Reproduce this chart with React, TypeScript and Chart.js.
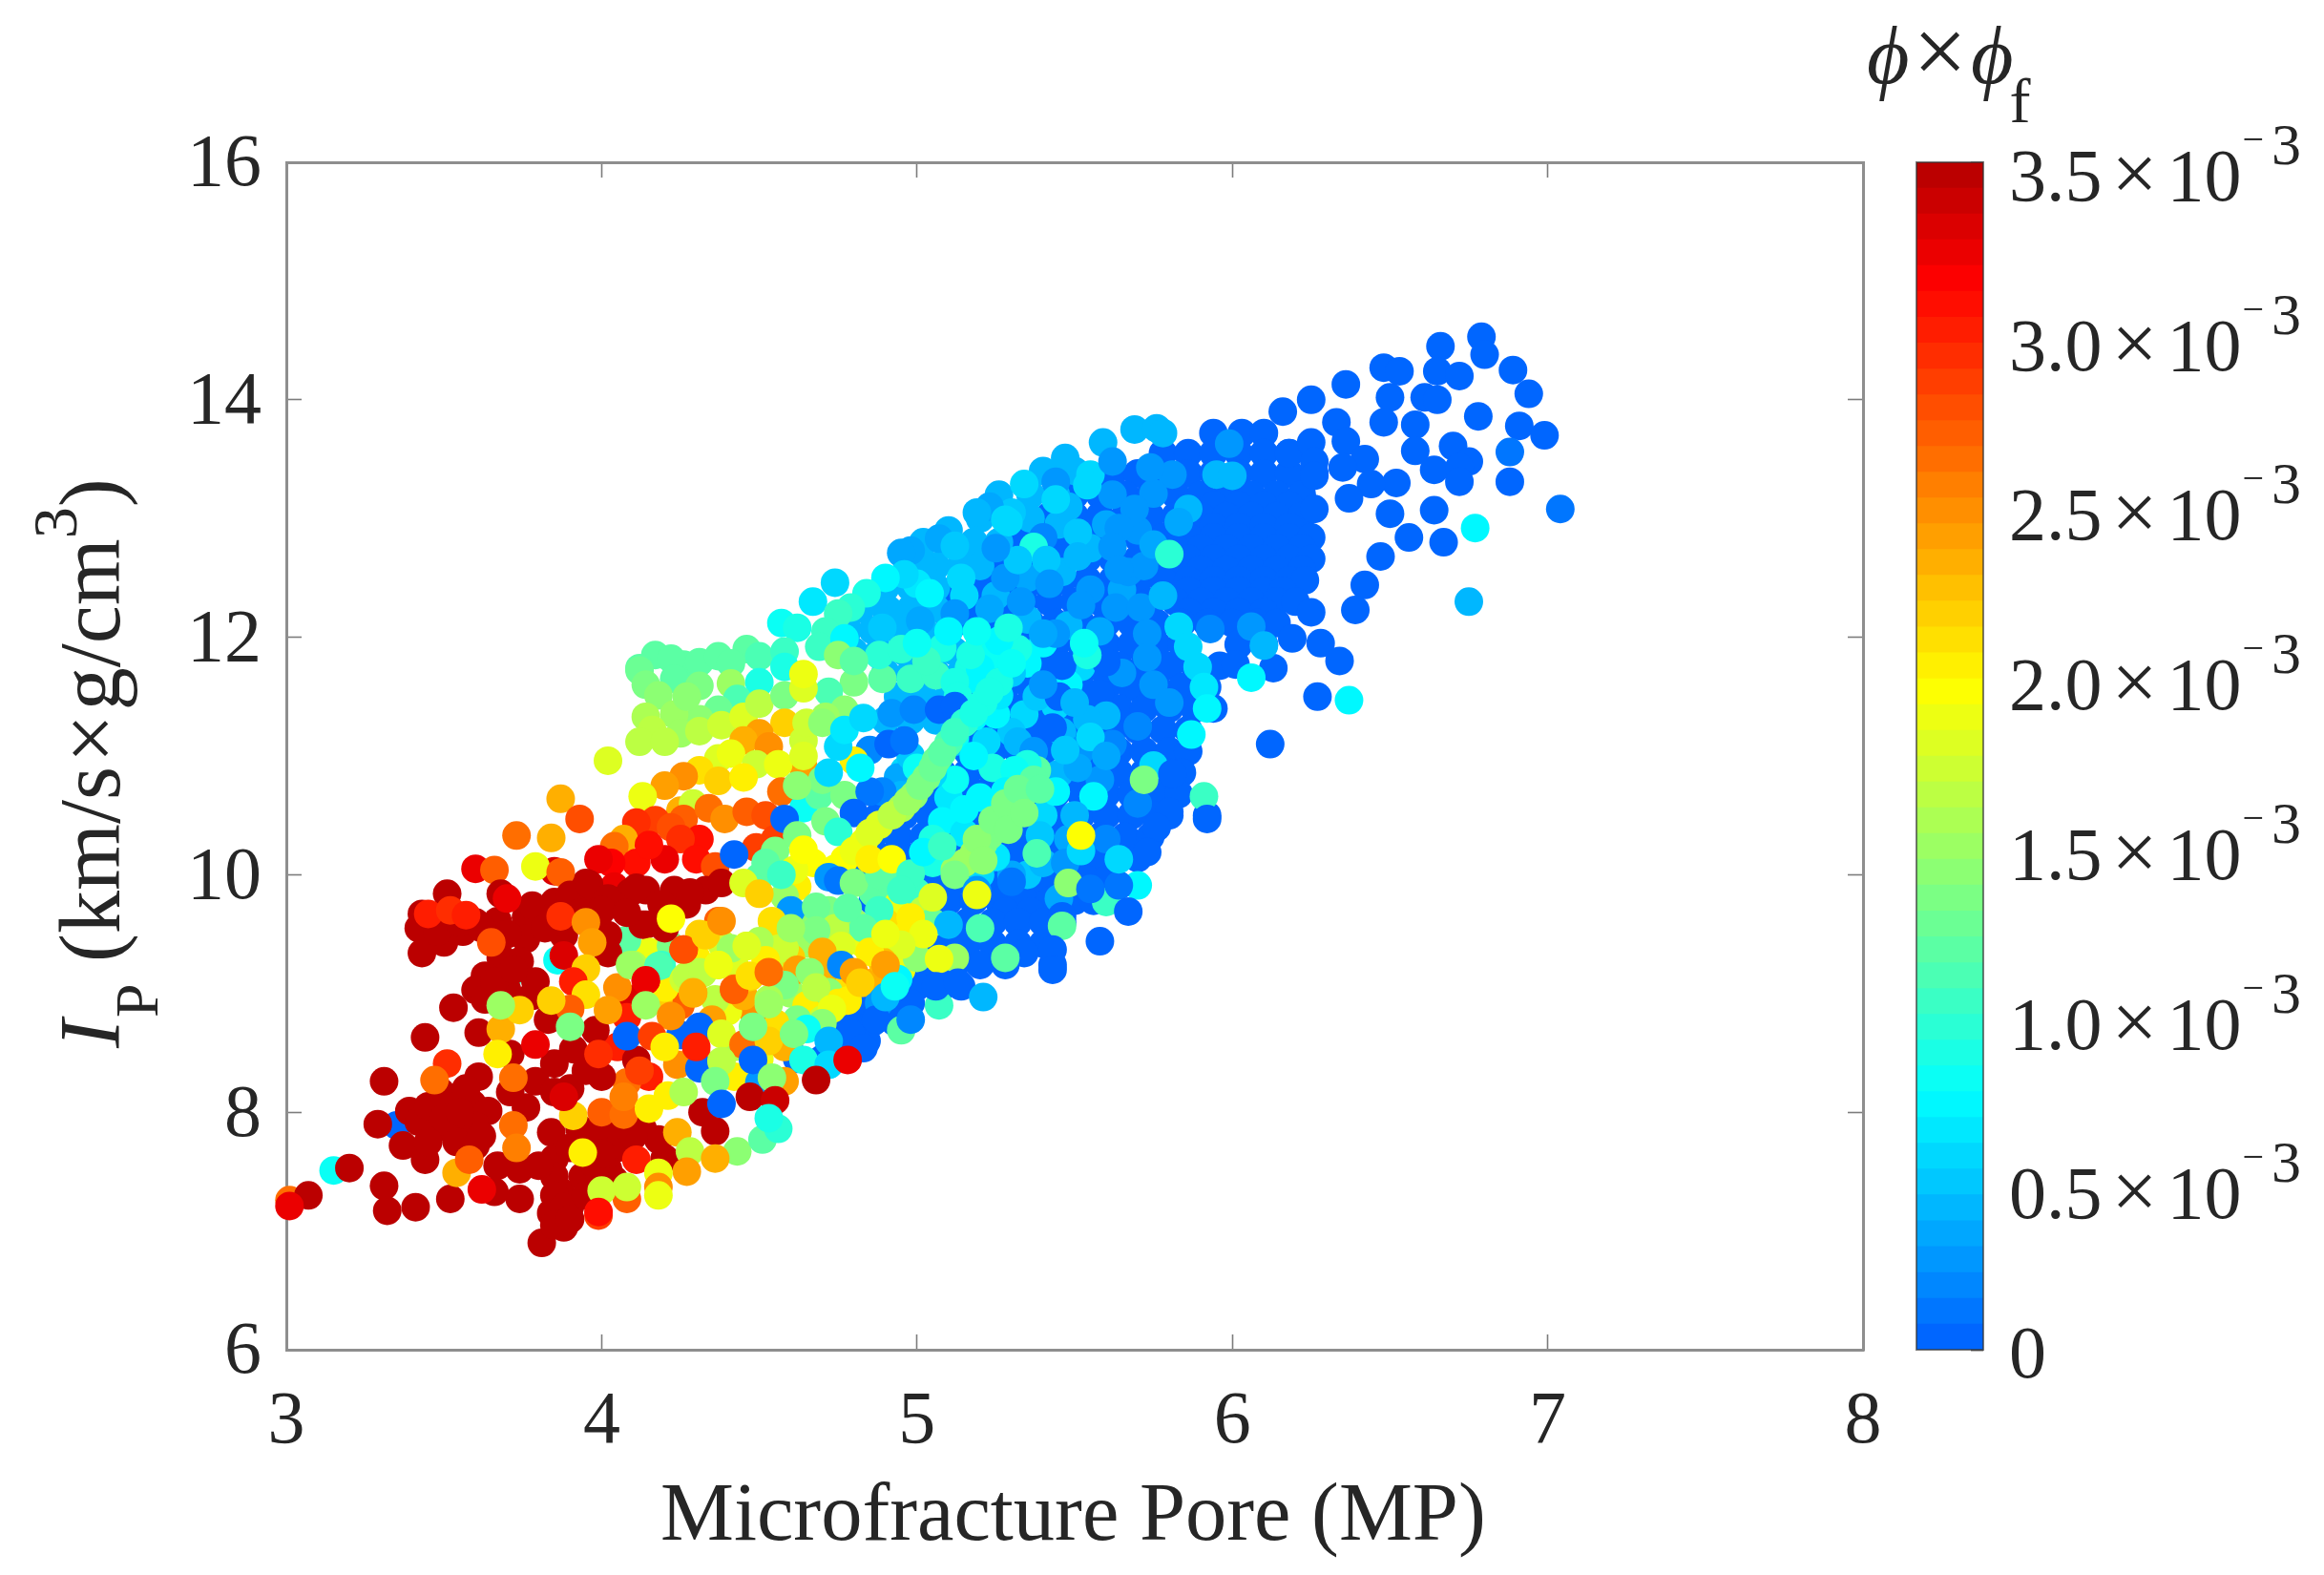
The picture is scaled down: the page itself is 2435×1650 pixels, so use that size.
import React, { useEffect, useRef } from "react";
import { Chart, registerables } from "chart.js";

Chart.register(...registerables);

const xTicks = [3, 4, 5, 6, 7, 8];
const yTicks = [6, 8, 10, 12, 14, 16];
const colorbarTicks = [0, 0.5, 1, 1.5, 2, 2.5, 3, 3.5];
const colorbarLabels = ["0", "0.5", "1.0", "1.5", "2.0", "2.5", "3.0", "3.5"];
const xAxisTitle = "Microfracture Pore (MP)";
const SERIF = '"Liberation Serif"';
const INK = "#262626";

// every row: y first, then the x values of the marks at this y. Value is phi*phi_f in 1e-3
const deepBlueRows = [
  [13.72, 5.94, 6.03, 6.1],
  [13.55, 5.78, 5.86, 5.94, 6.02, 6.1, 6.18],
  [13.38, 5.62, 5.7, 5.78, 5.86, 5.94, 6.02, 6.1, 6.18, 6.26],
  [13.2, 5.5, 5.58, 5.66, 5.74, 5.82, 5.9, 5.98, 6.06, 6.14, 6.22],
  [13.11, 5.86, 5.94, 6.02, 6.1, 6.18],
  [13.02, 5.42, 5.5, 5.58, 5.66, 5.74, 5.82, 5.9, 5.98, 6.06, 6.14, 6.22],
  [12.93, 5.86, 5.94, 6.02, 6.1, 6.18],
  [12.84, 5.3, 5.38, 5.46, 5.54, 5.62, 5.7, 5.78, 5.86, 5.94, 6.02, 6.1, 6.18, 6.25],
  [12.75, 5.82, 5.9, 5.98, 6.06, 6.14, 6.22],
  [12.66, 5.22, 5.3, 5.38, 5.46, 5.54, 5.62, 5.7, 5.78, 5.86, 5.94, 6.02, 6.1, 6.18, 6.25],
  [12.57, 5.82, 5.9, 5.98, 6.06, 6.14, 6.22],
  [12.48, 5.14, 5.22, 5.3, 5.38, 5.46, 5.54, 5.62, 5.7, 5.78, 5.86, 5.94, 6.02, 6.1, 6.18, 6.23],
  [12.39, 5.86, 5.94, 6.02, 6.1, 6.16],
  [12.3, 5.1, 5.18, 5.26, 5.34, 5.42, 5.5, 5.58, 5.66, 5.74, 5.82, 5.9, 5.98, 6.06, 6.14, 6.2],
  [12.21, 5.62, 5.7, 5.86, 5.94, 6.02, 6.1],
  [12.12, 5.12, 5.2, 5.28, 5.36, 5.44, 5.52, 5.6, 5.68, 5.76, 5.84, 5.92, 6.0, 6.08, 6.14],
  [11.94, 5.2, 5.28, 5.36, 5.44, 5.52, 5.6, 5.68, 5.76, 5.84, 6.02, 6.1],
  [11.76, 5.16, 5.24, 5.32, 5.4, 5.48, 5.56, 5.64, 5.72, 5.8, 5.88, 5.96],
  [11.58, 5.2, 5.28, 5.36, 5.44, 5.52, 5.6, 5.68, 5.76, 5.84, 5.92],
  [11.4, 5.16, 5.24, 5.32, 5.4, 5.48, 5.56, 5.64, 5.72, 5.8, 5.88, 5.94],
  [11.22, 5.14, 5.22, 5.3, 5.38, 5.46, 5.54, 5.62, 5.7, 5.78, 5.86],
  [11.04, 5.16, 5.24, 5.32, 5.4, 5.48, 5.56, 5.64, 5.72, 5.8, 5.86],
  [10.86, 5.0, 5.08, 5.16, 5.24, 5.32, 5.4, 5.48, 5.56, 5.64, 5.72, 5.8, 5.84],
  [10.68, 4.96, 5.04, 5.12, 5.2, 5.28, 5.36, 5.44, 5.52, 5.6, 5.68, 5.76, 5.83],
  [10.5, 4.88, 4.96, 5.04, 5.12, 5.2, 5.28, 5.36, 5.44, 5.52, 5.6, 5.68, 5.76, 5.8, 5.92],
  [10.32, 4.86, 4.94, 5.02, 5.1, 5.18, 5.26, 5.34, 5.42, 5.5, 5.58, 5.66, 5.74],
  [10.14, 4.82, 4.9, 4.98, 5.06, 5.14, 5.22, 5.3, 5.38, 5.46, 5.54, 5.62, 5.7],
  [10.05, 5.42, 5.5, 5.58],
  [9.96, 4.82, 4.9, 4.98, 5.06, 5.14, 5.22, 5.3, 5.38, 5.46, 5.54, 5.6],
  [9.87, 5.42, 5.5],
  [9.78, 4.86, 4.94, 5.02, 5.1, 5.18, 5.26, 5.34, 5.42, 5.5, 5.56],
  [9.69, 5.28, 5.36],
  [9.6, 4.92, 5.0, 5.08, 5.16, 5.24, 5.32, 5.4, 5.46],
  [9.42, 5.0, 5.08, 5.16, 5.24, 5.32, 5.4],
  [9.24, 4.96, 5.04, 5.12, 5.2, 5.28, 5.43],
  [9.06, 4.92, 5.0, 5.08, 5.14],
  [8.92, 4.82, 4.9, 4.98],
  [8.76, 4.78, 4.86, 4.93],
  [8.6, 4.76, 4.84],
  [8.45, 4.62, 4.7, 4.78],
];

const skyRows = [
  [13.4, 5.4, 5.5],
  [13.2, 5.26, 5.36, 5.44],
  [13.0, 5.2, 5.28, 5.36],
  [12.8, 5.02, 5.1, 5.18, 5.26],
  [12.6, 4.98, 5.06, 5.14, 5.2],
  [12.42, 4.9, 4.98, 5.06],
  [12.24, 4.82, 4.9, 4.98, 5.06],
  [12.06, 4.78, 4.86, 4.94, 5.02, 5.1],
  [11.88, 4.8, 4.88, 4.96, 5.04, 5.12],
  [11.7, 4.9, 4.98, 5.06, 5.14],
  [11.5, 4.94, 5.02, 5.1],
  [11.3, 4.9, 4.98, 5.06],
];

const isolatedBlue = [
  [6.79,14.53,.05],[6.8,14.38,.05],[6.66,14.45,.05],[6.89,14.25,.05],[6.94,14.05,.05],[6.48,14.27,.05],[6.53,14.24,.05],[6.65,14.24,.05],[6.72,14.2,.05],[6.5,14.02,.05],[6.61,14.02,.05],[6.65,14.0,.05],[6.36,14.13,.05],[6.25,14.0,.05],[6.16,13.9,.05],[6.33,13.81,.05],[6.48,13.81,.05],[6.58,13.79,.05],[6.78,13.86,.05],[6.91,13.78,.05],[6.99,13.7,.05],[6.36,13.65,.05],[6.7,13.61,.05],[6.58,13.57,.05],[6.88,13.56,.15],[6.42,13.5,.05],[6.35,13.43,.05],[6.64,13.41,.05],[6.75,13.48,.05],[6.72,13.43,.05],[6.72,13.31,.05],[6.88,13.31,.05],[6.52,13.3,.05],[6.44,13.29,.05],[6.37,13.17,.05],[6.64,13.07,.05],[6.5,13.04,.05],[7.04,13.08,.1],[6.77,12.92,.75],[6.56,12.84,.05],[6.67,12.8,.05],[6.47,12.68,.05],[6.42,12.44,.05],[6.39,12.23,.05],[6.75,12.3,.45],[6.27,11.5,.05],[6.37,11.47,.75],[6.12,11.1,.05],[6.25,12.21,.05],[6.19,11.99,.05],[6.28,11.95,.05],[6.34,11.8,.05],[6.13,11.74,.05],[6.01,11.77,.05],[6.06,11.66,.75],[6.26,13.08,.05],[6.18,13.55,.05],[6.25,13.64,.05],[6.26,13.48,.05],[6.26,13.36,.05],
];

const blueMix = [
  [5.02,12.6,.45],[5.1,12.9,.4],[5.3,13.05,.5],[5.45,12.95,.4],[5.35,12.5,.35],[5.46,12.55,.4],[5.55,12.4,.3],[5.25,12.35,.45],[5.15,12.35,.6],[5.35,12.15,.4],[5.48,12.1,.45],[5.58,12.05,.35],[5.65,12.4,.35],[5.67,12.55,.3],[5.6,12.95,.35],[5.7,12.9,.25],[5.72,12.6,.3],[5.55,12.75,.4],[5.48,13.1,.4],[5.62,13.2,.3],[5.52,11.75,.6],[5.48,11.6,.75],[5.44,11.42,.55],[5.34,11.35,.6],[5.3,11.2,.5],[5.22,11.12,.55],[5.12,11.12,.5],[5.35,11.78,.7],[5.4,11.95,.75],[5.32,11.9,.85],[5.25,11.35,.75],[5.38,11.5,.5],[5.46,11.2,.4],[5.52,11.05,.3],[5.62,11.1,.2],[5.7,11.25,.2],[5.75,11.6,.25],[5.65,11.7,.3],[5.8,11.45,.25],[5.7,10.6,.2],[5.58,10.8,.3],[5.45,10.85,.4],[5.4,10.5,.55],[5.48,10.3,.35],[5.2,10.65,.7],[5.1,10.65,.65],[5.08,10.45,.75],[5.15,10.35,.65],[5.05,10.3,.9],[5.35,10.0,.5],[5.45,9.8,.35],[5.4,10.1,.45],[5.2,10.0,.6],[5.05,10.1,.85],
  [5.165,11.74,.85],[5.23,11.91,.75],[5.205,11.62,.75],[5.26,11.51,.65],[5.18,11.33,.75],[5.12,11.16,.8],[5.07,10.99,1.1],[4.99,10.93,.65],[4.96,10.88,.55],[4.94,10.82,.35],[4.95,10.67,.4],[4.89,10.7,.2],[4.85,11.05,.2],
];

const rightStreaks = [
  [5.34,13.29,.55],[5.23,13.1,.35],[5.19,13.05,.4],[5.28,12.99,.6],[5.07,12.83,.35],[4.98,12.73,.35],[4.95,12.71,.35],[5.12,12.77,.5],[5.0,12.45,.65],[4.96,12.53,.6],[5.14,12.5,.6],[5.12,12.2,.3],[5.23,12.24,.35],[5.28,12.5,.3],[4.91,12.23,.4],[4.89,12.08,.5],[5.01,12.14,.35],
  [5.81,13.37,.25],[5.75,13.21,.25],[5.69,13.08,.25],[5.64,12.92,.25],[5.62,12.76,.25],[5.64,12.57,.25],[5.86,13.08,.45],[5.83,12.97,.35],[5.75,12.78,.35],[5.8,12.7,.95],[5.69,13.75,.45],[5.76,13.76,.4],[5.78,13.72,.4],[5.59,13.64,.45],[5.47,13.51,.45],[5.44,13.31,.3],[5.55,13.37,.55],[5.54,13.28,.55],[5.62,13.48,.3],[5.74,13.43,.3],[5.99,13.63,.3],[5.95,13.37,.45],[6.0,13.36,.45],[5.44,13.16,.6],[5.51,12.88,.5],[5.4,12.84,.2],[5.37,12.76,.9],[5.32,12.65,.5],[5.29,12.97,.6],[5.51,12.68,.4],[5.41,12.65,.5],[5.33,12.3,.3],[5.52,12.27,.3],[5.44,12.03,.3],[5.4,12.03,.35],[5.63,12.25,.3],[5.71,12.25,.3],[5.78,12.35,.4],[5.83,12.09,.55],[5.86,11.92,.55],[5.89,11.75,.6],[5.91,11.58,.65],[5.92,11.4,.75],[5.87,11.18,.75],[5.93,12.07,.2],[6.06,12.09,.3],[6.1,11.93,.4],[5.73,12.03,.25],[5.73,11.83,.3],[5.46,11.76,.05],[5.6,11.79,.05],[5.54,11.85,.85],[5.53,11.95,.8],[5.45,11.5,.05],[5.58,11.52,.05],[5.6,11.34,.4],[5.54,11.31,.45],[5.43,11.24,.05],[5.55,11.16,.6],[5.32,11.12,.4],[5.37,11.04,.3],[5.75,10.92,.55],[5.72,10.8,1.35],[5.51,10.9,.35],[5.81,10.85,.05],[5.91,10.66,1.0],[5.92,10.47,.05],[5.8,10.53,.05],[5.76,10.4,.05],[5.73,10.19,.05],
  [5.25,12.75,.25],[5.42,12.45,.3],[5.2,11.95,.85],[5.24,11.85,.8],[5.3,11.7,.5],[5.4,11.6,.3],[5.5,11.45,.4],[5.47,11.05,.5],[5.6,11.0,.35],[5.56,10.66,.7],[5.44,10.7,.7],[5.39,10.33,.5],[5.5,10.5,.4],[5.6,10.3,.2],[5.3,10.75,.75],[5.24,10.9,.85],[5.18,11.0,.75],[5.12,10.8,.8],[5.15,10.55,.7],[5.05,10.85,.6],[4.98,11.0,.5],
  [5.47,10.1,.3],[5.52,10.2,.55],[5.3,10.0,.35],[5.25,10.15,.65],
];

const cyanGreenBand = [
  [4.9,12.5,.75],[4.74,12.46,.6],[4.67,12.3,.65],[4.57,12.12,.8],[4.62,12.08,.85],[4.84,12.37,.85],[4.79,12.25,.95],[4.75,12.2,1.0],[4.71,12.05,1.05],[4.69,11.92,1.0],[4.77,11.99,.75],[5.04,12.37,.7],
  [4.75,11.85,1.4],[4.8,11.62,1.3],[4.89,11.65,1.15],[4.98,11.65,1.05],[5.06,11.68,1.0],[5.12,11.62,.9],[5.2,11.74,.75],[5.26,11.97,.75],[5.17,11.85,.85],[5.08,11.91,.9],[5.03,11.8,1.0],[4.88,11.85,.95],[4.95,11.9,.95],[5.29,12.08,.9],[5.19,12.05,.8],[4.72,11.54,1.1],[4.77,11.39,1.4],[4.71,11.33,1.5],[4.8,11.8,1.2],[5.0,11.95,.8],[5.1,12.05,.7],[5.13,11.5,.85],
  [4.17,11.85,1.15],[4.12,11.74,1.2],[4.26,11.77,1.15],[4.31,11.79,1.15],[4.37,11.84,1.15],[4.46,11.9,1.15],[4.5,11.84,1.1],[4.22,11.82,1.15],[4.41,11.78,1.15],[4.58,11.88,1.0],[4.58,11.75,.85],[4.12,11.72,1.25],[4.14,11.6,1.3],[4.23,11.65,1.2],[4.31,11.59,1.3],[4.41,11.61,1.45],[4.5,11.62,.9],[4.43,11.48,1.1],[4.18,11.51,1.4],[4.37,11.39,1.25],[4.31,11.31,1.4],[4.23,11.35,1.5],[4.14,11.33,1.55],[4.16,11.22,1.6],[4.12,11.12,1.65],[4.25,11.19,1.5],[4.31,11.21,1.6],[4.38,11.26,1.7],[4.45,11.33,1.75],[4.5,11.44,1.6],[4.58,11.51,1.3],[4.64,11.57,1.8],[4.64,11.69,1.9],[4.2,11.12,1.6],[4.27,11.5,1.4],
  [4.02,10.96,1.75],
];

const yellowOrangeRed = [
  [4.58,11.28,2.2],[4.5,11.19,2.4],[4.45,11.13,2.3],[4.53,11.08,2.5],[4.64,10.9,2.4],[4.37,10.98,1.8],[4.41,11.02,1.85],[4.49,10.93,1.7],[4.56,10.93,1.9],[4.64,11.13,1.7],[4.65,11.28,1.7],[4.7,11.28,1.4],[4.64,11.0,1.8],[4.31,10.88,2.1],[4.37,10.79,2.15],[4.45,10.82,2.0],[4.26,10.83,2.45],[4.2,10.75,2.4],[4.13,10.66,1.9],[4.25,10.54,2.3],[4.29,10.6,1.7],[4.57,10.7,2.6],
  [4.17,10.46,2.85],[4.11,10.44,2.9],[4.26,10.47,2.7],[4.34,10.56,2.6],[4.39,10.47,2.5],[4.46,10.53,2.7],[4.52,10.5,2.75],[4.55,10.3,2.85],[4.07,10.3,2.3],[4.04,10.24,2.6],[4.49,10.23,2.85],[4.22,10.4,2.8],
  [4.31,10.3,3.1],[4.25,10.3,2.95],[4.3,10.13,3.05],[4.36,10.07,2.8],[4.2,10.13,3.2],[4.11,10.1,3.1],[4.03,10.1,3.15],[3.99,10.13,3.2],[4.04,9.9,3.25],[4.15,10.25,3.05],[4.42,10.17,.05],
  [3.95,9.93,3.5],[4.04,9.78,3.5],[4.14,9.87,3.5],[4.23,9.87,3.5],[4.33,9.87,3.5],[4.38,9.93,3.5],[4.27,9.75,3.5],[4.14,9.58,3.5],[3.95,9.73,3.5],[4.09,9.85,3.5],[4.19,9.75,3.5],
];

const midFill = [
  [4.55,10.2,1.3],[4.5,9.98,1.2],[4.62,9.9,2.0],[4.58,9.82,1.5],[4.65,9.6,1.4],[4.72,9.7,1.3],[4.8,9.6,1.5],[4.86,9.85,1.15],[4.92,9.92,1.2],[4.94,9.75,1.9],[5.0,9.85,1.0],[4.9,9.6,2.1],[4.97,9.5,2.0],[4.83,9.42,1.9],[4.75,9.3,1.75],[4.65,9.42,1.5],[4.55,9.47,1.7],[4.6,9.3,2.2],[4.53,9.25,1.7],[4.72,9.2,2.3],[4.78,9.05,2.1],[4.88,9.12,2.3],[4.95,9.2,1.9],[5.0,9.3,1.4],[5.02,9.7,1.6],[5.05,9.6,1.25],[5.12,9.3,1.5],[4.6,9.0,1.5],[4.65,8.9,2.0],[4.7,8.78,1.7],[4.62,8.78,1.35],[4.55,8.75,2.1],[4.48,8.85,2.5],[4.4,8.85,1.9],[4.45,8.98,2.3],[4.36,8.95,1.6],[4.35,8.78,2.4],[4.25,8.9,2.7],[4.18,8.95,2.2],[4.1,8.95,3.3],[4.05,9.05,2.5],[4.15,9.35,1.9],[4.22,9.4,1.3],[4.38,9.42,1.7],[4.3,9.3,2.0],[4.42,9.25,1.75],[4.2,9.05,2.0],[4.08,9.45,1.2],[4.08,8.8,3.0],[4.3,8.5,2.6],[4.25,8.65,.05],[4.42,8.55,1.55],[4.5,8.45,1.9],[4.58,8.55,2.3],[4.42,8.3,2.0],[4.5,8.25,.3],[4.15,8.3,3.0],[4.08,8.25,2.6],[4.05,8.55,3.0],
];

const midBody = [
  [4.64,10.56,.8],[4.69,10.67,1.2],[4.77,10.67,1.3],[4.85,10.7,.1],[4.8,10.52,.05],[4.91,11.1,.05],[4.96,11.13,.15],[4.8,10.96,2.0],[4.58,10.47,.05],[4.71,10.45,1.35],[4.62,10.33,1.3],[4.75,10.36,.95],[4.7,10.8,1.3],[4.62,10.75,1.4],
  [4.75,11.08,.6],[4.77,11.22,.65],[4.83,11.32,.6],[4.72,10.86,.55],[4.92,11.36,.3],[4.99,11.39,.2],[5.07,11.39,.05],[5.12,11.42,.05],[4.82,10.9,.7],[5.0,10.9,.8],
  [4.77,10.13,1.95],[4.83,10.27,1.85],[4.88,10.42,1.75],[4.95,10.56,1.55],[4.99,10.67,1.4],[5.03,10.82,1.3],[5.06,10.96,1.25],[5.1,11.11,1.1],[5.15,11.28,.95],[5.21,11.45,.9],[5.26,11.62,.85],[5.3,11.78,.8],[4.74,10.05,1.95],[4.8,10.2,1.9],[4.85,10.35,1.8],[4.92,10.5,1.6],[4.97,10.62,1.45],[5.01,10.75,1.35],[5.05,10.9,1.25],[5.08,11.03,1.15],[5.12,11.2,1.0],[5.18,11.36,.9],[5.23,11.54,.85],
  [5.18,10.18,1.45],[5.23,10.33,1.35],[5.27,10.47,1.3],[5.32,10.59,1.3],[5.35,10.72,1.25],[5.38,10.88,1.15],[5.35,10.93,.9],[5.31,10.88,.8],[5.12,10.04,1.45],[5.15,10.1,1.45],[5.21,10.26,1.35],[5.25,10.4,1.3],[5.3,10.52,1.3],[5.33,10.65,1.25],[5.37,10.8,1.2],[5.28,10.7,.75],[5.19,10.3,1.4],[5.24,10.46,1.3],[5.28,10.6,1.3],[5.32,10.72,1.25],[5.21,10.12,1.4],[5.29,10.38,1.3],[5.34,10.52,1.3],[5.39,10.72,1.2],
  [4.67,10.1,1.95],[4.61,10.04,1.9],[4.64,10.21,1.95],[4.45,9.93,1.8],[4.5,9.84,2.2],[4.52,10.1,1.15],[4.57,10.0,1.05],[4.72,9.98,.3],[4.75,9.95,.1],[4.8,9.93,1.35],[4.88,10.0,1.2],[4.85,10.13,2.0],[4.92,10.13,1.95],[4.98,10.01,1.0],[4.95,9.87,1.05],[5.05,9.81,1.75],[5.02,10.19,.7],[5.08,10.24,1.05],[5.12,10.0,1.35],[5.19,9.87,.3],[5.3,9.94,.1],[5.19,9.83,1.85],[5.52,10.33,1.95],[5.38,10.18,1.1],[5.48,9.93,1.4],[5.6,9.77,1.0],[5.7,9.91,.75],[5.64,9.91,.1],[5.64,10.13,.55],[5.55,9.88,.1],[5.67,9.69,.05],[5.58,9.44,.05],[5.46,9.65,.05],[5.46,9.57,1.15],[5.43,9.37,.05],[5.43,9.2,.05],[5.34,9.34,.05],[5.28,9.3,1.2],[5.21,8.97,.4],[5.1,9.58,.45],[5.2,9.55,1.1],[5.07,9.29,1.9],
  [4.6,9.7,.25],[4.88,9.7,1.0],[4.98,9.64,2.0],[5.02,9.5,1.85],[4.95,9.41,1.8],[4.89,9.27,2.25],[4.83,9.55,1.2],[4.74,9.55,1.6],[4.68,9.73,1.25],[4.68,9.53,1.3],[4.58,9.38,1.7],[4.54,9.61,2.1],[4.46,9.4,1.85],[4.5,9.44,1.55],[4.37,9.61,2.7],[4.26,9.37,2.8],[4.31,9.5,2.2],[4.41,9.38,1.5],[4.19,9.24,1.0],[4.1,9.24,1.55],[4.14,9.11,3.2],[4.26,9.12,1.7],[4.31,9.18,1.6],[4.37,9.24,1.9],[4.47,9.14,2.15],[4.42,9.04,2.65],[4.29,9.0,2.3],[4.78,9.72,1.15],[4.85,9.35,2.0],[4.9,9.5,1.9],[4.76,9.4,1.75],[4.6,9.55,1.5],[4.7,9.35,2.3],[4.62,9.2,2.4],[4.52,9.28,2.0],
  [4.66,9.18,1.4],[4.58,9.07,1.35],[4.72,9.01,1.4],[4.76,9.24,.2],[4.83,9.09,2.3],[4.75,8.92,2.0],[4.53,8.95,1.55],[4.94,9.12,.75],[4.88,8.92,.3],[4.8,9.18,2.4],[4.68,9.05,1.6],
  [4.87,8.78,.05],[4.79,8.66,.05],[4.83,8.54,.05],[4.72,8.4,.6],[4.95,8.69,1.2],[4.98,8.78,.2],[5.07,8.9,1.0],[4.9,8.97,.4],[5.06,9.06,.05],[5.13,9.09,.05],[4.78,8.94,2.0],[4.73,8.87,1.85],[4.82,9.09,2.2],[4.9,9.24,2.4],[4.93,9.06,.8],[4.7,8.75,1.4],[4.65,8.7,.8],[4.72,8.6,.4],
];

const lowerLeftColors = [
  [3.15,7.51,.8],[3.01,7.26,2.6],[3.35,7.89,.05],[3.7,9.12,1.05],[3.86,9.28,.8],
  [3.87,10.64,2.3],[3.93,10.47,2.75],[3.73,10.33,2.65],[3.84,10.31,2.35],[3.85,10.03,3.3],[3.6,10.05,3.2],[3.66,10.04,2.7],[3.79,10.07,1.85],[3.87,10.02,2.7],
];

const darkRedLeft = [
  [3.51,9.84],[3.68,9.84],[3.43,9.67],[3.42,9.55],[3.56,9.52],[3.43,9.34],[3.5,9.43],[3.48,9.52],[3.67,9.61],[3.76,9.64],[3.78,9.74],[3.76,9.46],[3.85,9.77],[3.9,9.83],[3.96,9.92],[3.88,9.49],[3.82,9.55],[4.02,9.8],[4.02,9.49],[4.02,9.34],[4.13,9.58],[4.2,9.55],[4.11,9.89],[3.6,9.6],[3.68,9.3],[3.74,9.27],[3.63,9.15],[3.6,9.03],[3.79,9.1],[3.7,9.03],[3.63,8.95],[3.53,8.88],[3.44,8.63],[3.61,8.67],[3.83,8.78],[3.98,8.69],[3.91,8.53],[3.71,8.49],[4.11,8.44],[3.61,8.3],[3.31,8.26],[3.39,8.01],[3.29,7.9],[3.47,8.04],[3.53,8.07],[3.59,8.07],[3.64,8.01],[3.49,8.17],[3.57,8.2],[3.47,7.86],[3.56,7.89],[3.6,7.89],[3.42,7.92],[3.37,7.72],[3.54,7.75],[3.6,7.72],[3.44,7.6],[3.71,8.17],[3.76,8.04],[3.79,8.26],[3.85,8.41],[3.85,8.17],[3.9,8.2],[3.84,7.83],[3.93,7.86],[3.99,7.83],[4.05,7.7],[4.13,7.86],[4.2,7.61],[4.18,7.77],[4.32,8.0],[4.36,7.84],[4.47,8.13],[3.2,7.53],[3.07,7.3],[3.31,7.38],[3.32,7.17],[3.41,7.2],[3.52,7.27],[3.66,7.33],[3.74,7.27],[3.67,7.55],[3.74,7.52],[3.85,7.61],[3.84,7.15],[3.88,7.03],[3.81,6.9],[3.87,7.33],[3.85,7.46],[3.94,7.46],[4.02,7.52],[4.04,7.43],[3.9,7.21],[3.86,7.22],
  [3.55,9.6],[3.62,9.55],[3.7,9.5],[3.85,9.65],[3.93,9.68],[4.0,9.7],[4.08,9.68],[4.28,9.85],[3.66,9.1],[3.72,9.2],[3.78,8.98],[3.45,8.05],[3.5,7.95],[3.55,8.0],[3.62,7.8],[3.45,7.75],[3.85,7.3],[3.88,7.2],[3.85,7.05],[3.9,7.1],[3.95,7.3],[3.98,7.55],[4.0,7.65],[3.9,7.7],[3.8,7.55],[4.1,7.8],[4.05,7.9],[4.0,8.3],[3.95,8.35],
];

const lowerLeftTop = [
  [3.01,7.21,3.2],[3.45,9.67,3.0],[3.52,9.7,2.95],[3.57,9.66,3.0],[3.7,9.8,3.2],[3.87,9.65,2.9],[3.95,9.6,2.45],[3.97,9.43,2.4],[4.22,9.63,1.95],[3.65,9.43,2.8],[3.88,9.32,3.3],
  [3.95,9.21,2.15],[3.91,9.1,3.0],[3.95,8.99,2.1],[4.02,8.86,2.4],[3.9,8.87,2.7],[4.09,9.24,1.45],[4.18,9.23,1.1],[4.14,9.11,3.25],[4.27,9.15,1.65],[4.32,9.17,1.6],[4.37,9.24,1.85],[4.26,9.37,2.8],[4.33,9.49,2.2],[4.38,9.61,2.45],[4.46,9.4,1.75],
  [3.68,8.7,2.3],[3.74,8.86,2.2],[3.68,8.9,1.45],[3.84,8.94,2.2],[3.9,8.72,1.3],[3.79,8.57,3.2],[3.67,8.49,2.0],[3.51,8.41,2.9],[3.47,8.27,2.6],[3.72,8.29,2.6],
  [4.29,9.01,2.3],[4.42,9.03,2.7],[4.47,9.15,2.1],[4.53,9.18,2.6],[4.53,8.91,1.5],[4.14,8.9,1.5],[4.22,8.81,2.5],[4.31,8.72,.05],[4.08,8.64,.05],[4.16,8.64,2.85],[4.38,8.66,1.75],[4.45,8.57,2.6],[4.53,8.6,2.15],[4.61,8.66,1.35],[4.48,8.72,1.35],
  [3.99,8.49,2.95],[4.12,8.35,2.85],[4.24,8.4,2.5],[4.31,8.37,.05],[4.38,8.43,1.6],[4.36,8.26,1.35],[4.48,8.44,.05],[4.58,8.26,2.4],[4.54,8.29,1.4],[4.64,8.44,.85],[4.72,8.4,.6],[4.78,8.44,3.2],[4.68,8.27,3.5],[4.2,8.55,2.0],[4.3,8.55,3.0],
  [3.72,7.89,2.65],[3.73,7.7,2.55],[3.54,7.49,2.3],[3.58,7.6,2.7],[3.91,7.97,2.2],[4.0,8.0,2.7],[4.07,7.98,2.6],[4.07,8.13,2.55],[4.15,8.03,2.0],[4.21,8.14,2.0],[4.26,8.17,1.55],[4.55,8.1,3.4],[4.38,8.07,.05],[3.88,8.13,3.3],
  [4.24,7.83,2.3],[4.28,7.67,1.6],[4.43,7.67,1.4],[4.51,7.77,1.2],[4.56,7.86,.95],[4.53,7.95,.9],[4.36,7.61,2.3],[4.27,7.5,2.4],[3.94,7.66,2.05],[4.11,7.6,3.0],[4.18,7.49,1.9],[4.18,7.37,2.5],[4.18,7.3,1.9],[4.08,7.27,2.7],[4.08,7.37,1.7],[4.0,7.34,1.7],[3.99,7.13,2.85],[3.99,7.16,3.05],[3.62,7.35,3.2],
];

const colourbarBandTops = [
  0.076, 0.152, 0.228, 0.304, 0.38, 0.457, 0.533, 0.609, 0.685, 0.761, 0.837, 0.913, 0.989, 1.065, 1.141, 1.217,
  1.293, 1.37, 1.446, 1.522, 1.598, 1.674, 1.75, 1.826, 1.902, 1.978, 2.054, 2.13, 2.207, 2.283, 2.359, 2.435,
  2.511, 2.587, 2.663, 2.739, 2.815, 2.891, 2.967, 3.043, 3.12, 3.196, 3.272, 3.348, 3.424, 3.5,
];

const colourOfValue = (v: number) => {
  const bands = 46;
  const f = 0.225 + (0.717 * Math.min(bands - 1, Math.floor((v / 3.5) * bands))) / (bands - 1);
  const ch = (t: number) => Math.round(255 * Math.max(0, Math.min(1, 1.5 - Math.abs(4 * f - t))));
  return `rgb(${ch(3)},${ch(2)},${ch(1)})`;
};

const rows = (list: number[][], v: number) =>
  list.flatMap(([y, ...xs]) => xs.map((x) => [x, y, v]));

const allPoints = [
  ...rows(deepBlueRows, 0.05),
  ...rows(skyRows, 0.4),
  ...isolatedBlue,
  ...blueMix,
  ...rightStreaks,
  ...cyanGreenBand,
  ...yellowOrangeRed,
  ...midFill,
  ...midBody,
  ...lowerLeftColors,
  ...darkRedLeft.map(([x, y]) => [x, y, 3.5]),
  ...lowerLeftTop,
];

type Seg = { t: string; size: number; style?: string; dy?: number; gap?: number };
const drawRich = (ctx: CanvasRenderingContext2D, segs: Seg[], x: number, y: number, rot = 0) => {
  ctx.save();
  ctx.translate(x, y);
  ctx.rotate(rot);
  ctx.fillStyle = INK;
  ctx.textBaseline = "alphabetic";
  ctx.textAlign = "left";
  let cx = 0;
  for (const s of segs) {
    cx += s.gap ?? 0;
    ctx.font = `${s.style ?? ""} ${s.size}px ${SERIF}`;
    ctx.fillText(s.t, cx, s.dy ?? 0);
    cx += ctx.measureText(s.t).width;
  }
  ctx.restore();
};

const titlesPlugin = {
  id: "titles",
  afterDraw(chart: any) {
    const { ctx } = chart;
    const a = chart.chartArea;
    drawRich(ctx, [{ t: xAxisTitle, size: 86.5 }], (a.left + a.right) / 2 - 434, 1613);
    drawRich(
      ctx,
      [
        { t: "I", size: 90, style: "italic" },
        { t: "P", size: 64, dy: 40, gap: 2 },
        { t: " (km/s", size: 90, gap: 0 },
        { t: "×", size: 90, gap: 4 },
        { t: "g/cm", size: 90, gap: 4 },
        { t: "3", size: 66, dy: -45 },
        { t: ")", size: 90 },
      ],
      125,
      1098,
      -Math.PI / 2,
    );
  },
};

const barLabelsPlugin = {
  id: "barLabels",
  afterDraw(chart: any) {
    const { ctx } = chart;
    const a = chart.chartArea;
    ctx.save();
    ctx.strokeStyle = "rgba(50,50,50,0.65)";
    ctx.lineWidth = 2;
    ctx.strokeRect(a.left, a.top, a.right - a.left, a.bottom - a.top);
    ctx.restore();
    const scale = chart.scales.y;
    colorbarTicks.forEach((v, i) => {
      const py = scale.getPixelForValue(v);
      const x = a.right + 27;
      if (v === 0) {
        drawRich(ctx, [{ t: colorbarLabels[i], size: 78 }], x, py + 29);
      } else {
        drawRich(
          ctx,
          [
            { t: colorbarLabels[i], size: 78 },
            { t: "×", size: 85, gap: 10 },
            { t: "10", size: 78, gap: 10 },
            { t: "−", size: 40, gap: 1, dy: -51 },
            { t: "3", size: 62, gap: 8, dy: -38 },
          ],
          x,
          py + 40,
        );
      }
    });
    drawRich(
      ctx,
      [
        { t: "ϕ", size: 86, style: "italic" },
        { t: "×", size: 100, gap: 4 },
        { t: "ϕ", size: 86, style: "italic", gap: 4 },
        { t: "f", size: 66, dy: 41, gap: -4 },
      ],
      a.left - 52,
      87,
    );
  },
};

export default function App() {
  const mainRef = useRef<HTMLCanvasElement>(null);
  const barRef = useRef<HTMLCanvasElement>(null);

  useEffect(() => {
    const axisLine = { color: "#8e8e8e", width: 3 };
    const tickMark = { drawOnChartArea: false, tickLength: -16, tickColor: "#7c7c7c", tickWidth: 1.6 };
    const tickFont = { family: SERIF, size: 78 };
    const main = new Chart(mainRef.current!, {
      type: "scatter",
      data: {
        datasets: [
          {
            data: allPoints.map(([x, y]) => ({ x, y })),
            backgroundColor: allPoints.map((p) => colourOfValue(p[2])),
            borderWidth: 0,
            pointRadius: 15,
            clip: false,
          } as any,
        ],
      },
      options: {
        responsive: false,
        animation: false,
        layout: { padding: { top: 170, right: 483, left: 0, bottom: 0 } },
        plugins: { legend: { display: false }, tooltip: { enabled: false } },
        scales: {
          x: {
            type: "linear", position: "bottom", min: 3, max: 8,
            afterBuildTicks: (s: any) => { s.ticks = xTicks.map((value) => ({ value })); },
            afterFit: (s: any) => { s.height = 236; },
            grid: tickMark, border: axisLine,
            ticks: { font: tickFont, color: INK, padding: 46, maxRotation: 0, autoSkip: false },
          },
          y: {
            type: "linear", position: "left", min: 6, max: 16,
            afterBuildTicks: (s: any) => { s.ticks = yTicks.map((value) => ({ value })); },
            afterFit: (s: any) => { s.width = 300; },
            grid: tickMark, border: axisLine,
            ticks: { font: tickFont, color: INK, padding: 42, autoSkip: false, labelOffset: 4 },
          },
          xTop: {
            type: "linear", position: "top", min: 3, max: 8,
            afterBuildTicks: (s: any) => { s.ticks = xTicks.map((value) => ({ value })); },
            afterFit: (s: any) => { s.height = 0; },
            grid: tickMark, border: axisLine, ticks: { display: false },
          },
          yRight: {
            type: "linear", position: "right", min: 6, max: 16,
            afterBuildTicks: (s: any) => { s.ticks = yTicks.map((value) => ({ value })); },
            afterFit: (s: any) => { s.width = 0; },
            grid: tickMark, border: axisLine, ticks: { display: false },
          },
        },
      } as any,
      plugins: [titlesPlugin],
    });

    const bar = new Chart(barRef.current!, {
      type: "bar",
      data: {
        labels: [""],
        datasets: colourbarBandTops.map((top, i) => ({
          data: [top],
          backgroundColor: colourOfValue(top - 0.01),
          borderWidth: 0,
          order: i,
          grouped: false,
          barPercentage: 1,
          categoryPercentage: 1,
        })) as any,
      },
      options: {
        responsive: false,
        animation: false,
        layout: { padding: { top: 170, bottom: 236, left: 108, right: 357 } },
        plugins: { legend: { display: false }, tooltip: { enabled: false } },
        scales: {
          x: { display: false },
          y: {
            type: "linear", position: "right", min: 0, max: 3.5,
            afterBuildTicks: (s: any) => { s.ticks = colorbarTicks.map((value) => ({ value })); },
            afterFit: (s: any) => { s.width = 0; },
            border: { display: false },
            grid: { drawOnChartArea: false, tickLength: -13, tickColor: "rgba(40,40,40,0.7)", tickWidth: 2 },
            ticks: { display: false },
          },
        },
      } as any,
      plugins: [barLabelsPlugin],
    });

    return () => {
      main.destroy();
      bar.destroy();
    };
  }, []);

  return (
    <div style={{ position: "absolute", left: 0, top: 0, width: 2435, height: 1650, background: "#fff", overflow: "hidden" }}>
      <canvas ref={mainRef} width={2435} height={1650} style={{ position: "absolute", left: 0, top: 0, filter: "blur(0.6px)" }} />
      <canvas ref={barRef} width={535} height={1650} style={{ position: "absolute", left: 1900, top: 0, filter: "blur(0.6px)" }} />
    </div>
  );
}
